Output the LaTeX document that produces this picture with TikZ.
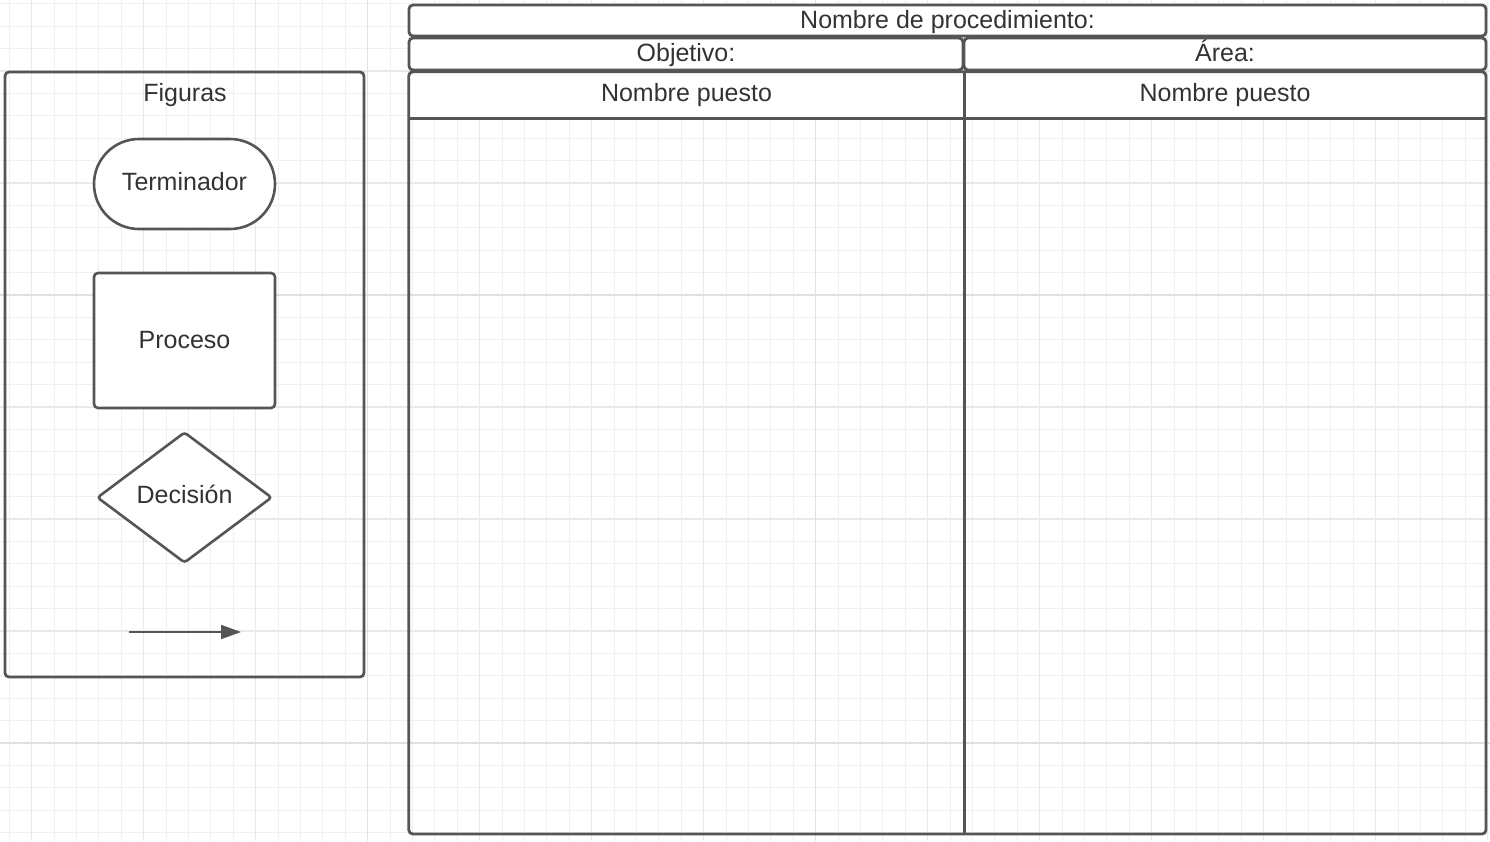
\documentclass[tikz,border=0pt]{standalone}
\usepackage{fontspec}
\setmainfont{Liberation Sans}
\usetikzlibrary{arrows.meta,shapes.geometric}
\definecolor{ln}{HTML}{555555}
\definecolor{tx}{HTML}{333333}
\definecolor{gminor}{HTML}{F0F0F0}
\definecolor{gmid}{HTML}{E9E9E9}
\definecolor{gmajor}{HTML}{E0E0E0}
\tikzset{
  minorgrid/.style={gminor, line width=1pt},
  midgrid/.style={gmid, line width=1.1pt},
  majorgrid/.style={gmajor, line width=1.5pt},
  txt/.style={text=tx, font=\fontsize{25}{30}\selectfont, text height=18pt, text depth=6pt, inner sep=0pt},
  shapebox/.style={txt, draw=ln, line width=2.6pt, fill=white},
  panel/.style={draw=ln, line width=2.8pt, rounded corners=4pt, inner sep=0pt},
  cell/.style={txt, draw=ln, line width=2.8pt, fill=white, rounded corners=4pt},
  hdr/.style={txt, fill=white},
  frame/.style={draw=ln, line width=2.8pt},
  conn/.style={draw=ln, line width=2pt, -{Triangle[length=20pt,width=14pt]}}
}
\begin{document}
\begin{tikzpicture}[x=1pt,y=-1pt]
\useasboundingbox (0,0) rectangle (1490,841);
\fill[white] (0,0) rectangle (1490,841);
% grid
\foreach \k in {0,...,66} {\draw[minorgrid] ({9.3+22.4*\k},0) -- ({9.3+22.4*\k},841);}
\foreach \k in {0,...,37} {\draw[minorgrid] (0,{3.8+22.4*\k}) -- (1490,{3.8+22.4*\k});}
\foreach \k in {0,...,13} {\draw[midgrid] ({31.7+112*\k},0) -- ({31.7+112*\k},841);}
\foreach \k in {0,...,6} {\draw[midgrid] (0,{71+112*\k}) -- (1490,{71+112*\k});}
\draw[majorgrid] (367.7,0) -- (367.7,841);
\draw[majorgrid] (815.7,0) -- (815.7,841);
\draw[majorgrid] (0,295) -- (1490,295);
\draw[majorgrid] (0,743) -- (1490,743);

% Figuras panel
\node[panel, minimum width=359pt, minimum height=605pt] (fig) at (184.5,374.5) {};
\node[txt] (figlbl) at (185,95) {Figuras};
\node[shapebox, minimum width=181pt, minimum height=90pt, rounded corners=45pt] (term) at (184.5,184) {Terminador};
\node[shapebox, minimum width=181pt, minimum height=135pt, rounded corners=4pt] (proc) at (184.5,340.5) {\raisebox{-2pt}{Proceso}};
\node[shapebox, diamond, minimum width=175pt, minimum height=131pt, rounded corners=3pt] (dec) at (184.5,497.5) {Decisi\'on};
\coordinate (a1) at (129,632);
\coordinate (a2) at (241,632);
\draw[conn] (a1) -- (a2);

% Table
\node[cell, minimum width=1077pt, minimum height=31pt] (title) at (947.5,20.5) {\raisebox{-2pt}{Nombre de procedimiento:}};
\node[cell, minimum width=554pt, minimum height=32pt] (obj) at (686,54) {\raisebox{-1.5pt}{Objetivo:}};
\node[cell, minimum width=522pt, minimum height=32pt] (area) at (1225,54) {\raisebox{-1.5pt}{Área:}};
\node[hdr, minimum width=555pt, minimum height=46pt] (hdrL) at (686.5,95) {Nombre puesto};
\node[hdr, minimum width=522pt, minimum height=46pt] (hdrR) at (1225,95) {Nombre puesto};
\coordinate (br) at (1486,834);
\draw[frame, rounded corners=4pt] (hdrL.north west) rectangle (br);
\draw[frame] (hdrL.south west) -- (hdrR.south east);
\draw[frame] (hdrL.north east) -- (hdrL.north east |- br);
\end{tikzpicture}
\end{document}
